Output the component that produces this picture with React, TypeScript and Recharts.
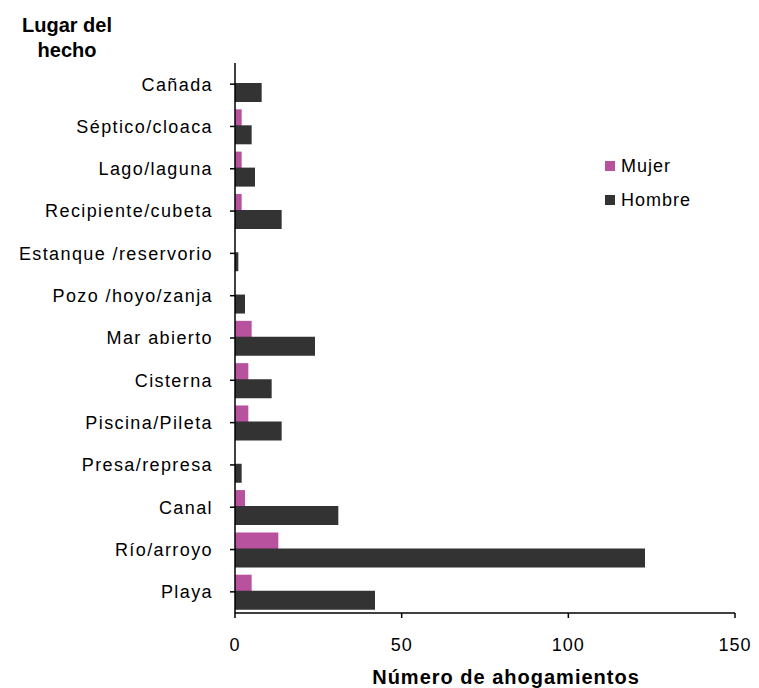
import { BarChart, Bar, XAxis, YAxis } from 'recharts';

const lugares = [
  'Cañada',
  'Séptico/cloaca',
  'Lago/laguna',
  'Recipiente/cubeta',
  'Estanque /reservorio',
  'Pozo /hoyo/zanja',
  'Mar abierto',
  'Cisterna',
  'Piscina/Pileta',
  'Presa/represa',
  'Canal',
  'Río/arroyo',
  'Playa',
];
const mujer = [0, 2, 2, 2, 0, 0, 5, 4, 4, 0, 3, 13, 5];
const hombre = [8, 5, 6, 14, 1, 3, 24, 11, 14, 2, 31, 123, 42];
const xTicks = [0, 50, 100, 150];
const series = [
  { key: 'Mujer', color: '#B8519E' },
  { key: 'Hombre', color: '#333333' },
];

const data = lugares.map((name, i) => ({ name, Mujer: mujer[i], Hombre: hombre[i] }));

const font = '"Liberation Sans", Arial, sans-serif';

export default function App() {
  return (
    <div style={{ position: 'absolute', left: 0, top: 0, width: 759, height: 688, background: '#fff' }}>
      <BarChart
        width={759}
        height={688}
        data={data}
        layout="vertical"
        margin={{ top: 63, right: 24, bottom: 35, left: 0 }}
        barSize={19}
        barGap={-3}
      >
        <XAxis
          type="number"
          domain={[0, 150]}
          ticks={xTicks}
          height={40}
          tickSize={5}
          tickMargin={20}
          axisLine={{ stroke: '#000', strokeWidth: 1.5 }}
          tickLine={{ stroke: '#000', strokeWidth: 1.5 }}
          tick={{ fill: '#000', fontSize: 18, fontFamily: font, letterSpacing: 1 }}
        />
        <YAxis
          type="category"
          dataKey="name"
          width={235}
          tickSize={5}
          tickMargin={17}
          interval={0}
          axisLine={{ stroke: '#000', strokeWidth: 1.5 }}
          tickLine={{ stroke: '#000', strokeWidth: 1.5 }}
          tick={{ fill: '#000', fontSize: 18, fontFamily: font, letterSpacing: 1.4 }}
        />
        {series.map((s) => (
          <Bar key={s.key} dataKey={s.key} fill={s.color} isAnimationActive={false} />
        ))}
        <text x={67} y={32} textAnchor="middle" fontFamily={font} fontWeight="bold" fontSize={20} fill="#000">
          Lugar del
        </text>
        <text x={67} y={57} textAnchor="middle" fontFamily={font} fontWeight="bold" fontSize={20} fill="#000">
          hecho
        </text>
        <text x={506} y={684} textAnchor="middle" fontFamily={font} fontWeight="bold" fontSize={20} letterSpacing={1} fill="#000">
          Número de ahogamientos
        </text>
      </BarChart>
      <div style={{ position: 'absolute', left: 605, top: 149, fontFamily: font, fontSize: 18, letterSpacing: 1 }}>
        {series.map((s) => (
          <div key={s.key} style={{ display: 'flex', alignItems: 'center', height: 34 }}>
            <span style={{ width: 10, height: 10, background: s.color, marginRight: 6, display: 'inline-block' }} />
            <span style={{ color: '#000' }}>{s.key}</span>
          </div>
        ))}
      </div>
    </div>
  );
}
